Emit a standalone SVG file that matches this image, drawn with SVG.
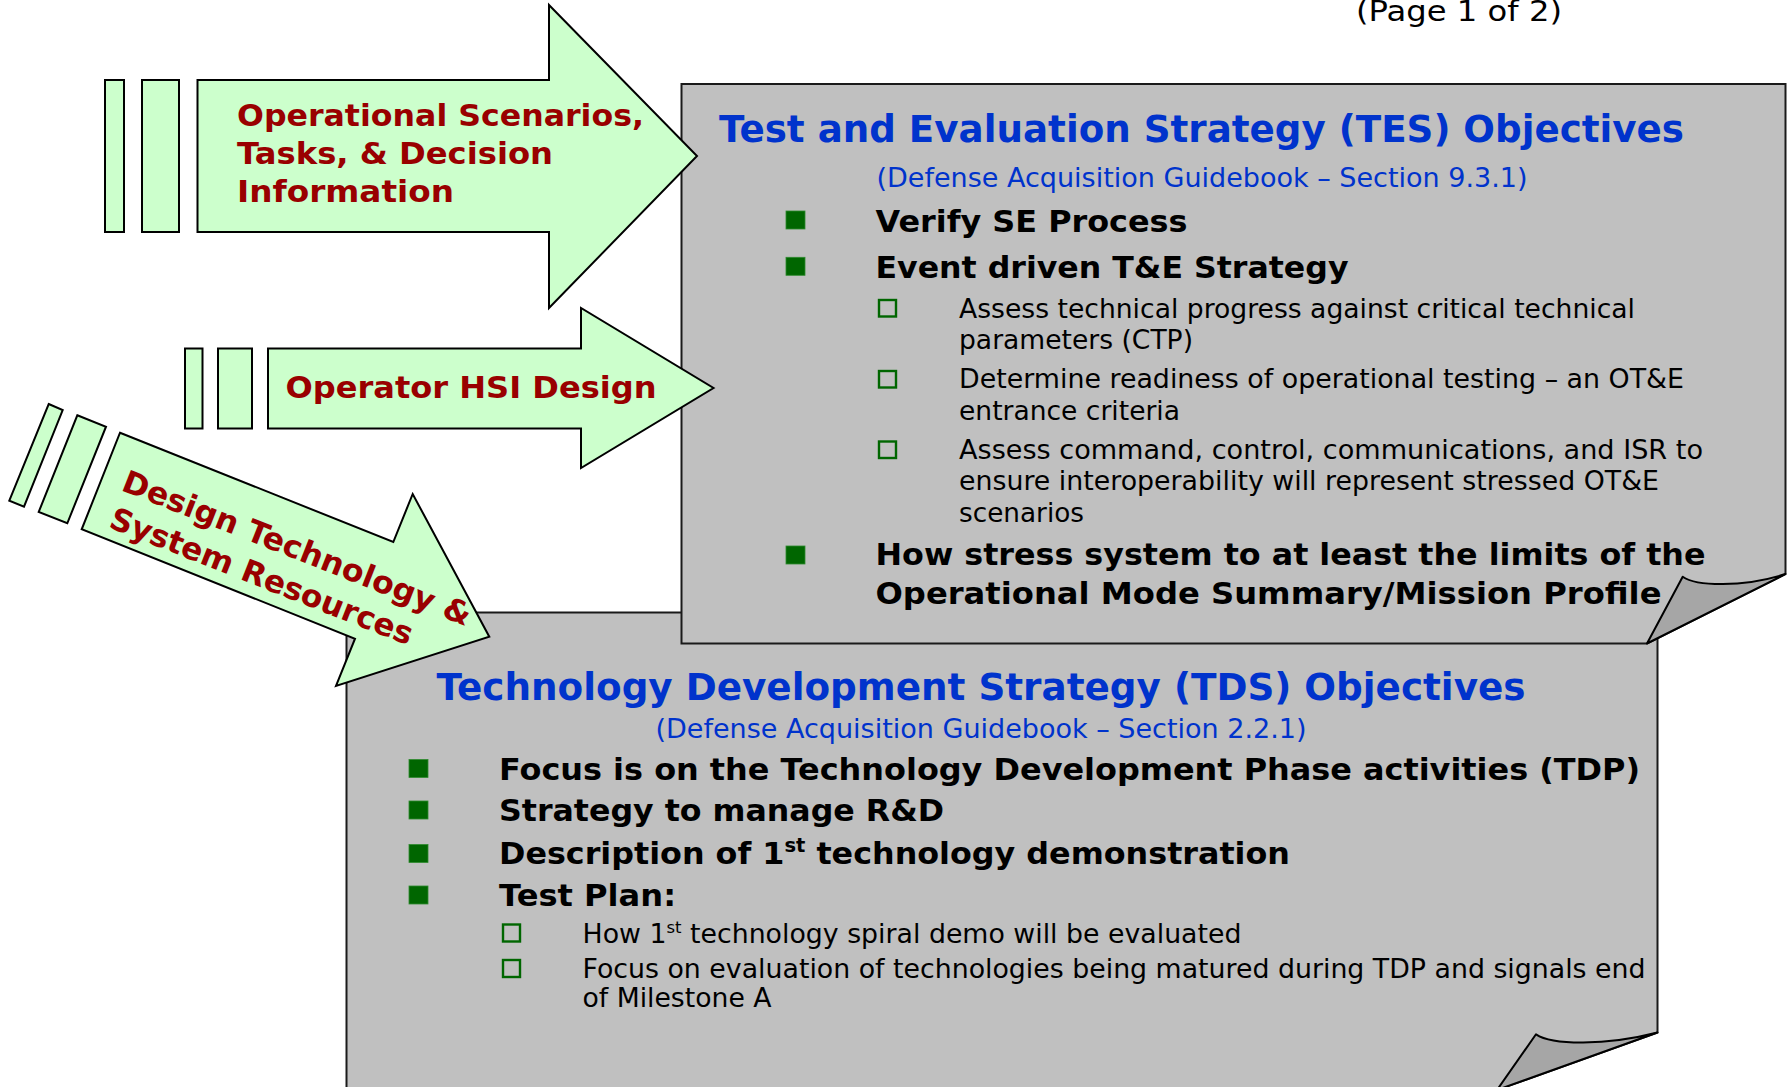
<svg xmlns="http://www.w3.org/2000/svg" width="1787" height="1087" viewBox="0 0 1787 1087">
<style>
  text { font-family: "DejaVu Sans", "Liberation Sans", sans-serif; }
  .box { fill: #c0c0c0; stroke: #1a1a1a; stroke-width: 2; }
  .flap { fill: #a6a6a6; stroke: #000; stroke-width: 2; stroke-linejoin: round; }
  .arrow { fill: #ccffcc; stroke: #000; stroke-width: 2; stroke-linejoin: miter; }
  .atext { font-weight: bold; font-size: 31px; fill: #990000; }
  .title { font-weight: bold; font-size: 37px; fill: #0033cc; }
  .sub { font-size: 26px; fill: #0033cc; }
  .b1 { font-weight: bold; font-size: 31px; fill: #000; }
  .b2 { font-size: 26px; fill: #000; }
  .sq { fill: #006600; stroke: #2e8b2e; stroke-width: 0.8; }
  .hsq { fill: none; stroke: #006600; stroke-width: 2.4; }
  .page { font-size: 29px; fill: #000; }
</style>

<text class="page" x="1356" y="20.5" textLength="206" lengthAdjust="spacingAndGlyphs">(Page 1 of 2)</text>

<g id="tds-box">
  <path class="box" d="M346.5,612.5 H1657.5 V1032.5 L1497,1090 H346.5 Z"/>
  <path class="flap" d="M1536,1034.3 C1552,1045 1605,1046 1657.5,1032.5 L1497,1090 Z"/>
  <text class="title" x="436.5" y="700" textLength="1089" lengthAdjust="spacingAndGlyphs">Technology Development Strategy (TDS) Objectives</text>
  <text class="sub" x="655.5" y="738" textLength="651" lengthAdjust="spacingAndGlyphs">(Defense Acquisition Guidebook – Section 2.2.1)</text>
  <rect class="sq" x="409" y="759.5" width="19" height="18"/>
  <text class="b1" x="499" y="780" textLength="1141" lengthAdjust="spacingAndGlyphs">Focus is on the Technology Development Phase activities (TDP)</text>
  <rect class="sq" x="409" y="801" width="19" height="18"/>
  <text class="b1" x="499" y="821" textLength="445" lengthAdjust="spacingAndGlyphs">Strategy to manage R&amp;D</text>
  <rect class="sq" x="409" y="844.5" width="19" height="18"/>
  <text class="b1" x="499" y="864" textLength="791" lengthAdjust="spacingAndGlyphs">Description of 1<tspan font-size="19" dy="-12">st</tspan><tspan dy="12"> technology demonstration</tspan></text>
  <rect class="sq" x="409" y="886" width="19" height="18"/>
  <text class="b1" x="499" y="906" textLength="177" lengthAdjust="spacingAndGlyphs">Test Plan:</text>
  <rect class="hsq" x="503" y="924.5" width="17" height="17"/>
  <text class="b2" x="582.5" y="942.5" textLength="659" lengthAdjust="spacingAndGlyphs">How 1<tspan font-size="16" dy="-10">st</tspan><tspan dy="10"> technology spiral demo will be evaluated</tspan></text>
  <rect class="hsq" x="503" y="960" width="17" height="17"/>
  <text class="b2" x="582.5" y="978" textLength="1063" lengthAdjust="spacingAndGlyphs">Focus on evaluation of technologies being matured during TDP and signals end</text>
  <text class="b2" x="582.5" y="1007" textLength="189" lengthAdjust="spacingAndGlyphs">of Milestone A</text>
</g>

<g id="tes-box">
  <path class="box" d="M681.5,84 H1785.5 V574 L1647,643.5 H681.5 Z"/>
  <path class="flap" d="M1682.7,576.7 C1696,586 1742,588 1785.5,574 L1647,643.5 Z"/>
  <text class="title" x="719" y="142" textLength="965" lengthAdjust="spacingAndGlyphs">Test and Evaluation Strategy (TES) Objectives</text>
  <text class="sub" x="876.5" y="187" textLength="651" lengthAdjust="spacingAndGlyphs">(Defense Acquisition Guidebook – Section 9.3.1)</text>
  <rect class="sq" x="786" y="211" width="19" height="18"/>
  <text class="b1" x="875.5" y="231.5" textLength="312" lengthAdjust="spacingAndGlyphs">Verify SE Process</text>
  <rect class="sq" x="786" y="257.3" width="19" height="18"/>
  <text class="b1" x="875.5" y="277.5" textLength="473" lengthAdjust="spacingAndGlyphs">Event driven T&amp;E Strategy</text>
  <rect class="hsq" x="879" y="300" width="17" height="16.5"/>
  <text class="b2" x="959" y="318" textLength="676" lengthAdjust="spacingAndGlyphs">Assess technical progress against critical technical</text>
  <text class="b2" x="959" y="349" textLength="234" lengthAdjust="spacingAndGlyphs">parameters (CTP)</text>
  <rect class="hsq" x="879" y="371" width="17" height="16.5"/>
  <text class="b2" x="959" y="388" textLength="725" lengthAdjust="spacingAndGlyphs">Determine readiness of operational testing – an OT&amp;E</text>
  <text class="b2" x="959" y="419.5" textLength="221" lengthAdjust="spacingAndGlyphs">entrance criteria</text>
  <rect class="hsq" x="879" y="441.5" width="17" height="16.5"/>
  <text class="b2" x="959" y="458.5" textLength="744" lengthAdjust="spacingAndGlyphs">Assess command, control, communications, and ISR to</text>
  <text class="b2" x="959" y="490" textLength="700" lengthAdjust="spacingAndGlyphs">ensure interoperability will represent stressed OT&amp;E</text>
  <text class="b2" x="959" y="521.5" textLength="125" lengthAdjust="spacingAndGlyphs">scenarios</text>
  <rect class="sq" x="786" y="546" width="19" height="18"/>
  <text class="b1" x="875.5" y="565" textLength="830" lengthAdjust="spacingAndGlyphs">How stress system to at least the limits of the</text>
  <text class="b1" x="875.5" y="604" textLength="786" lengthAdjust="spacingAndGlyphs">Operational Mode Summary/Mission Profile</text>
</g>

<g id="connectors">
  <g id="arrow-operational-scenarios">
    <rect class="arrow" x="105" y="80" width="19" height="152"/>
    <rect class="arrow" x="142" y="80" width="37" height="152"/>
    <polygon class="arrow" points="197.5,80 549,80 549,5 697,156 549,308 549,232 197.5,232"/>
    <text class="atext" x="237" y="126" textLength="407" lengthAdjust="spacingAndGlyphs">Operational Scenarios,</text>
    <text class="atext" x="237" y="164" textLength="316" lengthAdjust="spacingAndGlyphs">Tasks, &amp; Decision</text>
    <text class="atext" x="237" y="201.5" textLength="217" lengthAdjust="spacingAndGlyphs">Information</text>
  </g>
  <g id="arrow-operator-hsi">
    <rect class="arrow" x="185" y="348.5" width="17.5" height="80"/>
    <rect class="arrow" x="218" y="348.5" width="34" height="80"/>
    <polygon class="arrow" points="268,348.5 581,348.5 581,308 713.5,388 581,468 581,428.5 268,428.5"/>
    <text class="atext" x="285.5" y="397.5" textLength="371" lengthAdjust="spacingAndGlyphs">Operator HSI Design</text>
  </g>
  <g id="arrow-design-technology">
    <polygon class="arrow" points="48.7,404 62.7,410 24,506.7 9.3,500.7"/>
    <polygon class="arrow" points="77.3,415.3 106,426.7 67.3,523.3 38.7,512"/>
    <polygon class="arrow" points="120,432.7 393.3,542 412.7,494 489.3,636.7 336,686 355,638.7 81.7,529.3"/>
    <g transform="translate(120,490) rotate(21.5)">
      <text class="atext" x="0" y="0" textLength="372" lengthAdjust="spacingAndGlyphs">Design Technology &amp;</text>
      <text class="atext" x="2" y="39" textLength="323" lengthAdjust="spacingAndGlyphs">System Resources</text>
    </g>
  </g>
</g>
</svg>
